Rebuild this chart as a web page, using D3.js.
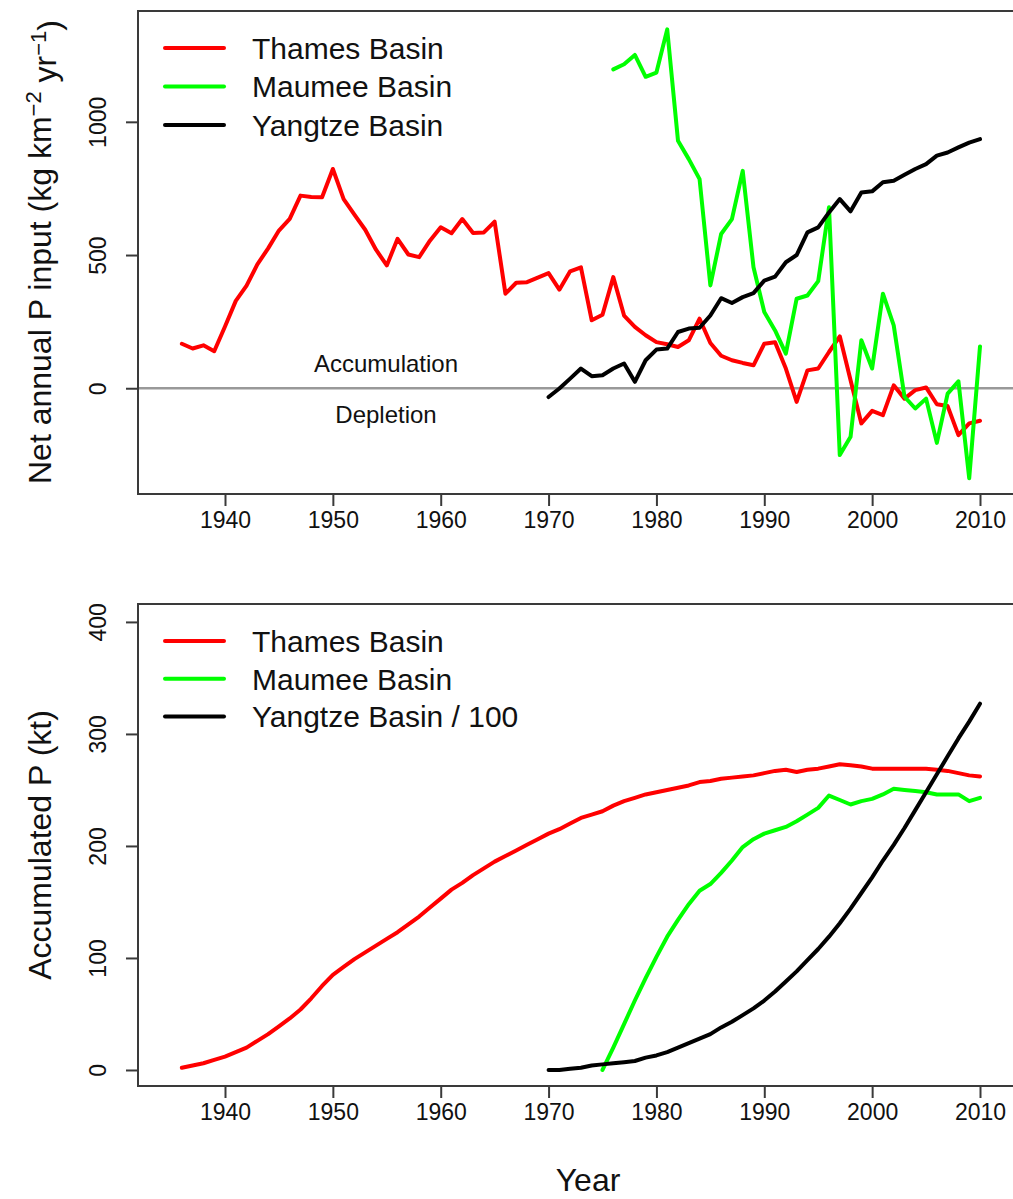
<!DOCTYPE html>
<html>
<head>
<meta charset="utf-8">
<script src="https://cdn.jsdelivr.net/npm/d3@7"></script>
<style>
  body { margin: 0; background: #fff; }
  svg { display: block; font-family: "Liberation Sans", Arial, sans-serif; }
</style>
</head>
<body>
<div id="chart"></div>
<script>
// Years
const thamesYears = d3.range(1936, 2011);
const maumeeYears = d3.range(1976, 2011);
const maumeeAccYears = d3.range(1975, 2011);
const yangtzeYears = d3.range(1970, 2011);

// Net annual P input (kg km-2 yr-1)
const thamesNet = [167, 149, 161, 139, 232, 328, 385, 465, 525, 592,
  636, 723, 718, 717, 823, 710, 652, 595, 520, 461,
  561, 502, 492, 554, 604, 582, 635, 583, 585, 625,
  355, 396, 398, 415, 432, 370, 439, 454, 255, 276,
  417, 273, 230, 199, 173, 165, 155, 180, 261, 170,
  122, 105, 95, 86, 167, 173, 74, -51, 67, 74,
  136, 195, 30, -132, -85, -101, 11, -39, -7, 3,
  -60, -67, -176, -132, -122];
const maumeeNet = [1197, 1216, 1251, 1169, 1185, 1347, 929, 860, 785, 386,
  579, 635, 816, 454, 286, 217, 130, 336, 348, 402,
  679, -251, -182, 180, 74, 355, 236, -32, -76, -39,
  -205, -20, 26, -338, 157];
const yangtzeNet = [-33, -1, 36, 74, 45, 49, 74, 93, 24, 105,
  145, 149, 211, 224, 227, 273, 338, 320, 342, 357,
  404, 419, 473, 500, 585, 604, 660, 710, 664, 735,
  739, 773, 779, 801, 823, 841, 873, 885, 904, 922, 935];

// Accumulated P (kt); Yangtze divided by 100
const thamesAcc = [2, 4, 6, 9, 12, 16, 20, 26, 32, 39,
  46, 54, 64, 75, 85, 92, 99, 105, 111, 117,
  123, 130, 137, 145, 153, 161, 167, 174, 180, 186,
  191, 196, 201, 206, 211, 215, 220, 225, 228, 231,
  236, 240, 243, 246, 248, 250, 252, 254, 257, 258,
  260, 261, 262, 263, 265, 267, 268, 266, 268, 269,
  271, 273, 272, 271, 269, 269, 269, 269, 269, 269,
  268, 267, 265, 263, 262];
const maumeeAcc = [0, 20, 41, 62, 82, 101, 119, 134, 148, 160,
  166, 176, 187, 199, 206, 211, 214, 217, 222, 228,
  234, 245, 241, 237, 240, 242, 246, 251, 250, 249,
  248, 246, 246, 246, 240, 243];
const yangtzeAcc = [0, 0, 1, 2, 4, 5, 6, 7, 8, 11,
  13, 16, 20, 24, 28, 32, 38, 43, 49, 55,
  62, 70, 79, 88, 98, 108, 119, 131, 144, 158,
  172, 187, 201, 216, 232, 248, 264, 280, 296, 311, 327];

const xTicks = [1940, 1950, 1960, 1970, 1980, 1990, 2000, 2010];
const topTicks = [0, 500, 1000];
const bottomTicks = [0, 100, 200, 300, 400];
const topLegend = ["Thames Basin", "Maumee Basin", "Yangtze Basin"];
const bottomLegend = ["Thames Basin", "Maumee Basin", "Yangtze Basin / 100"];
const seriesColors = ["#ff0000", "#00ff00", "#000000"];

const width = 1013;
const height = 1199;
const boxColor = "#3a3a3a";

const svg = d3.select("#chart")
  .append("svg")
  .attr("width", width)
  .attr("height", height)
  .attr("viewBox", `0 0 ${width} ${height}`);

// shared x scale (same layout both panels)
const x = d3.scaleLinear().domain([1940, 2010]).range([225, 980]);
const plotLeft = 138;
const plotRight = 1030;

function drawPanel(opts) {
  const g = svg.append("g");
  const y = d3.scaleLinear().domain(opts.domain).range([opts.bottom, opts.top]);

  // zero line
  if (opts.zeroLine) {
    g.append("line")
      .attr("x1", plotLeft).attr("x2", plotRight)
      .attr("y1", y(0)).attr("y2", y(0))
      .attr("stroke", "#999").attr("stroke-width", 2.5);
  }

  const line = d3.line().x(d => x(d[0])).y(d => y(d[1]));
  opts.series.forEach((s, i) => {
    g.append("path")
      .datum(d3.zip(s.years, s.values))
      .attr("fill", "none")
      .attr("stroke", seriesColors[i])
      .attr("stroke-width", 4)
      .attr("stroke-linejoin", "round")
      .attr("stroke-linecap", "round")
      .attr("d", line);
  });

  // box
  g.append("rect")
    .attr("x", plotLeft).attr("y", opts.top)
    .attr("width", plotRight - plotLeft).attr("height", opts.bottom - opts.top)
    .attr("fill", "none").attr("stroke", boxColor).attr("stroke-width", 2);

  // x axis
  const xAxis = g.append("g")
    .attr("transform", `translate(0,${opts.bottom})`)
    .call(d3.axisBottom(x).tickValues(xTicks).tickFormat(d3.format("d")).tickSize(12).tickPadding(6));
  xAxis.select(".domain").remove();
  xAxis.selectAll("line").attr("stroke", boxColor).attr("stroke-width", 2);
  xAxis.selectAll("text").attr("font-size", 23).attr("fill", "#111")
    .attr("font-family", "Liberation Sans, Arial, sans-serif");

  // y axis with rotated labels
  const yAxis = g.append("g")
    .attr("transform", `translate(${plotLeft},0)`)
    .call(d3.axisLeft(y).tickValues(opts.ticks).tickSize(12).tickFormat(d3.format("d")));
  yAxis.select(".domain").remove();
  yAxis.selectAll("line").attr("stroke", boxColor).attr("stroke-width", 2);
  yAxis.selectAll("text")
    .attr("font-size", 23).attr("fill", "#111")
    .attr("font-family", "Liberation Sans, Arial, sans-serif")
    .attr("x", null).attr("dy", null)
    .attr("text-anchor", "middle")
    .attr("transform", "translate(-40,0) rotate(-90)")
    .attr("dy", "0.35em");

  // legend
  const legend = g.append("g");
  opts.legend.forEach((label, i) => {
    const ly = opts.legendY + i * opts.legendStep;
    legend.append("line")
      .attr("x1", 165).attr("x2", 224)
      .attr("y1", ly).attr("y2", ly)
      .attr("stroke", seriesColors[i]).attr("stroke-width", 4)
      .attr("stroke-linecap", "round");
    legend.append("text")
      .attr("x", 252).attr("y", ly).attr("dy", "0.36em")
      .attr("font-size", 30).attr("fill", "#111")
      .text(label);
  });

  // y title
  const title = g.append("text")
    .attr("transform", `translate(40,${opts.titleY}) rotate(-90)`)
    .attr("text-anchor", "middle")
    .attr("dy", "0.35em")
    .attr("font-size", 32)
    .attr("fill", "#111");
  opts.title(title);
  return y;
}

const yTop = drawPanel({
  top: 11, bottom: 494,
  domain: [-397, 1416],
  ticks: topTicks,
  zeroLine: true,
  series: [
    { years: thamesYears, values: thamesNet },
    { years: maumeeYears, values: maumeeNet },
    { years: yangtzeYears, values: yangtzeNet }
  ],
  legend: topLegend, legendY: 48, legendStep: 38.5,
  titleY: 252,
  title: t => {
    t.append("tspan").text("Net annual P input (kg km");
    t.append("tspan").attr("dy", "-0.45em").attr("font-size", 22).text("\u22122");
    t.append("tspan").attr("dy", "0.45em").text(" yr");
    t.append("tspan").attr("dy", "-0.45em").attr("font-size", 22).text("\u22121");
    t.append("tspan").attr("dy", "0.45em").text(")");
  }
});

svg.append("text")
  .attr("x", 386).attr("y", yTop(0) - 25).attr("dy", "0.35em")
  .attr("text-anchor", "middle").attr("font-size", 24).attr("fill", "#111")
  .text("Accumulation");
svg.append("text")
  .attr("x", 386).attr("y", yTop(0) + 26).attr("dy", "0.35em")
  .attr("text-anchor", "middle").attr("font-size", 24).attr("fill", "#111")
  .text("Depletion");

drawPanel({
  top: 604, bottom: 1086,
  domain: [-14.3, 416],
  ticks: bottomTicks,
  zeroLine: false,
  series: [
    { years: thamesYears, values: thamesAcc },
    { years: maumeeAccYears, values: maumeeAcc },
    { years: yangtzeYears, values: yangtzeAcc }
  ],
  legend: bottomLegend, legendY: 641, legendStep: 37.7,
  titleY: 845,
  title: t => t.text("Accumulated P (kt)")
});

svg.append("text")
  .attr("x", 588).attr("y", 1180).attr("dy", "0.35em")
  .attr("text-anchor", "middle").attr("font-size", 32).attr("fill", "#111")
  .text("Year");
</script>
</body>
</html>
